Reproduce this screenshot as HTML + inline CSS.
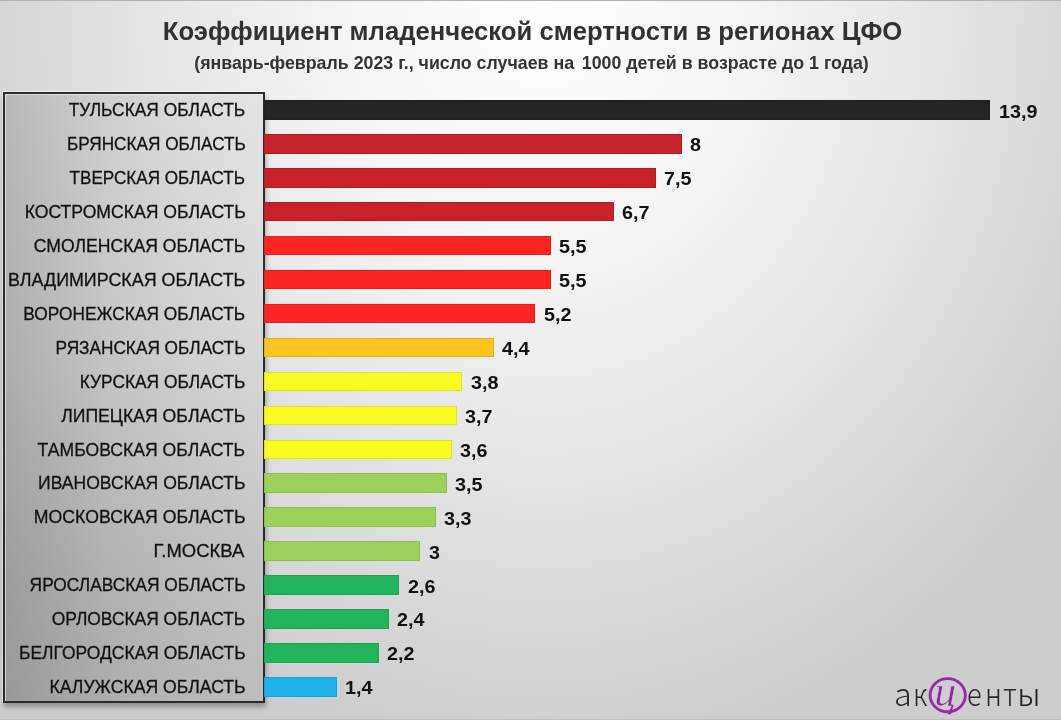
<!DOCTYPE html>
<html lang="ru">
<head>
<meta charset="utf-8">
<title>Коэффициент младенческой смертности в регионах ЦФО</title>
<style>
html,body{margin:0;padding:0;}
body{width:1061px;height:720px;overflow:hidden;position:relative;
  font-family:"Liberation Sans",Arial,sans-serif;
  background:radial-gradient(ellipse 640px 750px at 545px 10px,#fefefe 0%,#f6f6f6 30%,#e6e6e6 60%,#d6d6d6 85%,#cdcdcd 100%);}
.topline{position:absolute;left:0;top:0;width:1061px;height:1px;background:#b2b2b2;}
.botline{position:absolute;left:0;bottom:0;width:1061px;height:1px;background:#bdbdbd;}
.title{position:absolute;left:1.5px;width:1061px;text-align:center;top:14.5px;font-weight:bold;font-size:26.6px;transform:scaleX(0.965);color:#313131;white-space:nowrap;line-height:32px;}
.sub{position:absolute;left:1px;width:1061px;text-align:center;top:50.8px;font-weight:bold;font-size:19px;transform:scaleX(0.936);color:#333;white-space:nowrap;line-height:24px;}
.box{position:absolute;left:3px;top:92px;width:258px;height:607px;border:2px solid #2c2c2c;
  background:linear-gradient(180deg,rgba(0,0,0,0) 0%,rgba(0,0,0,0.01) 10%,rgba(0,0,0,0.06) 45%,rgba(0,0,0,0.145) 78%,rgba(0,0,0,0.17) 100%),linear-gradient(90deg,#b8b8b8 0%,#d0d0d0 40%,#dcdcdc 70%,#e4e4e4 100%);
  box-shadow:1px 4px 5px rgba(0,0,0,0.3), -1px -1px 0 rgba(255,255,255,0.7), inset 1px 1px 0 rgba(255,255,255,0.55);}
.lbl{position:absolute;transform-origin:100% 50%;text-align:right;font-size:19.0px;color:#111;-webkit-text-stroke:0.3px #111;white-space:nowrap;line-height:22px;}
.bar{position:absolute;left:263.5px;height:19.5px;box-shadow:inset 0 0 0 1px rgba(0,0,0,0.1);}
.val{position:absolute;transform:scaleX(1.04);transform-origin:0 50%;font-weight:bold;font-size:19px;color:#111;white-space:nowrap;line-height:22px;}
.lg{position:absolute;top:676px;font-family:"Noto Sans CJK JP","Liberation Sans",sans-serif;font-weight:300;font-size:32px;line-height:32px;color:#262626;white-space:nowrap;transform-origin:0 50%;}
</style>
</head>
<body>
<div class="topline"></div>
<div class="botline"></div>
<div class="title">Коэффициент младенческой смертности в регионах ЦФО</div>
<div class="sub">(январь-февраль 2023 г., число случаев на <span style="display:inline-block;width:3px"></span>1000 детей в возрасте до 1 года)</div>
<div class="box"></div>
<div class="bar" style="top:100.20px;width:726.97px;background:#242424"></div>
<div class="val" style="top:100.50px;left:998.77px">13,9</div>
<div class="lbl" style="top:99.20px;right:815.57px;transform:scaleX(0.9139)">ТУЛЬСКАЯ ОБЛАСТЬ</div>
<div class="bar" style="top:134.13px;width:418.40px;background:#c8212a"></div>
<div class="val" style="top:134.43px;left:690.20px">8</div>
<div class="lbl" style="top:133.13px;right:815.58px;transform:scaleX(0.9042)">БРЯНСКАЯ ОБЛАСТЬ</div>
<div class="bar" style="top:168.06px;width:392.25px;background:#c8212a"></div>
<div class="val" style="top:168.36px;left:664.05px">7,5</div>
<div class="lbl" style="top:167.06px;right:815.58px;transform:scaleX(0.8996)">ТВЕРСКАЯ ОБЛАСТЬ</div>
<div class="bar" style="top:201.99px;width:350.41px;background:#c8212a"></div>
<div class="val" style="top:202.29px;left:622.21px">6,7</div>
<div class="lbl" style="top:200.99px;right:815.57px;transform:scaleX(0.9258)">КОСТРОМСКАЯ ОБЛАСТЬ</div>
<div class="bar" style="top:235.92px;width:287.65px;background:#fd2424"></div>
<div class="val" style="top:236.22px;left:559.45px">5,5</div>
<div class="lbl" style="top:234.92px;right:815.57px;transform:scaleX(0.9263)">СМОЛЕНСКАЯ ОБЛАСТЬ</div>
<div class="bar" style="top:269.85px;width:287.65px;background:#fd2424"></div>
<div class="val" style="top:270.15px;left:559.45px">5,5</div>
<div class="lbl" style="top:268.85px;right:815.56px;transform:scaleX(0.9401)">ВЛАДИМИРСКАЯ ОБЛАСТЬ</div>
<div class="bar" style="top:303.78px;width:271.96px;background:#fd2424"></div>
<div class="val" style="top:304.08px;left:543.76px">5,2</div>
<div class="lbl" style="top:302.78px;right:815.57px;transform:scaleX(0.9123)">ВОРОНЕЖСКАЯ ОБЛАСТЬ</div>
<div class="bar" style="top:337.71px;width:230.12px;background:#fdc520"></div>
<div class="val" style="top:338.01px;left:501.92px">4,4</div>
<div class="lbl" style="top:336.71px;right:815.58px;transform:scaleX(0.9068)">РЯЗАНСКАЯ ОБЛАСТЬ</div>
<div class="bar" style="top:371.64px;width:198.74px;background:#f9fc22"></div>
<div class="val" style="top:371.94px;left:470.54px">3,8</div>
<div class="lbl" style="top:370.64px;right:815.57px;transform:scaleX(0.9136)">КУРСКАЯ ОБЛАСТЬ</div>
<div class="bar" style="top:405.57px;width:193.51px;background:#f9fc22"></div>
<div class="val" style="top:405.87px;left:465.31px">3,7</div>
<div class="lbl" style="top:404.57px;right:815.56px;transform:scaleX(0.9287)">ЛИПЕЦКАЯ ОБЛАСТЬ</div>
<div class="bar" style="top:439.50px;width:188.28px;background:#f9fc22"></div>
<div class="val" style="top:439.80px;left:460.08px">3,6</div>
<div class="lbl" style="top:438.50px;right:815.57px;transform:scaleX(0.9259)">ТАМБОВСКАЯ ОБЛАСТЬ</div>
<div class="bar" style="top:473.43px;width:183.05px;background:#9cd25c"></div>
<div class="val" style="top:473.73px;left:454.85px">3,5</div>
<div class="lbl" style="top:472.43px;right:815.57px;transform:scaleX(0.9240)">ИВАНОВСКАЯ ОБЛАСТЬ</div>
<div class="bar" style="top:507.36px;width:172.59px;background:#9cd25c"></div>
<div class="val" style="top:507.66px;left:444.39px">3,3</div>
<div class="lbl" style="top:506.36px;right:815.56px;transform:scaleX(0.9304)">МОСКОВСКАЯ ОБЛАСТЬ</div>
<div class="bar" style="top:541.29px;width:156.90px;background:#9cd25c"></div>
<div class="val" style="top:541.59px;left:428.70px">3</div>
<div class="lbl" style="top:540.29px;right:816.32px;transform:scaleX(0.9721)">Г.МОСКВА</div>
<div class="bar" style="top:575.22px;width:135.98px;background:#22b45b"></div>
<div class="val" style="top:575.52px;left:407.78px">2,6</div>
<div class="lbl" style="top:574.22px;right:815.57px;transform:scaleX(0.9129)">ЯРОСЛАВСКАЯ ОБЛАСТЬ</div>
<div class="bar" style="top:609.15px;width:125.52px;background:#22b45b"></div>
<div class="val" style="top:609.45px;left:397.32px">2,4</div>
<div class="lbl" style="top:608.15px;right:815.57px;transform:scaleX(0.9160)">ОРЛОВСКАЯ ОБЛАСТЬ</div>
<div class="bar" style="top:643.08px;width:115.06px;background:#22b45b"></div>
<div class="val" style="top:643.38px;left:386.86px">2,2</div>
<div class="lbl" style="top:642.08px;right:815.57px;transform:scaleX(0.9192)">БЕЛГОРОДСКАЯ ОБЛАСТЬ</div>
<div class="bar" style="top:677.01px;width:73.22px;background:#1fb1ea"></div>
<div class="val" style="top:677.31px;left:345.02px">1,4</div>
<div class="lbl" style="top:676.01px;right:815.57px;transform:scaleX(0.9269)">КАЛУЖСКАЯ ОБЛАСТЬ</div>
<div class="lg" style="left:894.37px;transform:scaleX(1.015)">а</div>
<div class="lg" style="left:913.23px;transform:scaleX(0.857)">к</div>
<div class="lg" style="left:967.35px;transform:scaleX(0.853)">е</div>
<div class="lg" style="left:985.01px;transform:scaleX(0.864)">н</div>
<div class="lg" style="left:1002.90px;transform:scaleX(0.873)">т</div>
<div class="lg" style="left:1016.88px;transform:scaleX(1.041)">ы</div>
<svg width="60" height="50" viewBox="0 0 60 50" style="position:absolute;left:920px;top:672px;overflow:visible">
<text x="14.3" y="33.6" font-family="'Liberation Serif', serif" font-style="italic" font-size="44" fill="#8e24aa" stroke="#d2d2d2" stroke-width="0.6">ц</text>
<ellipse cx="27.7" cy="23.2" rx="17.6" ry="16.6" fill="none" stroke="#9b27b0" stroke-width="2.9"/>
</svg>
</body>
</html>
